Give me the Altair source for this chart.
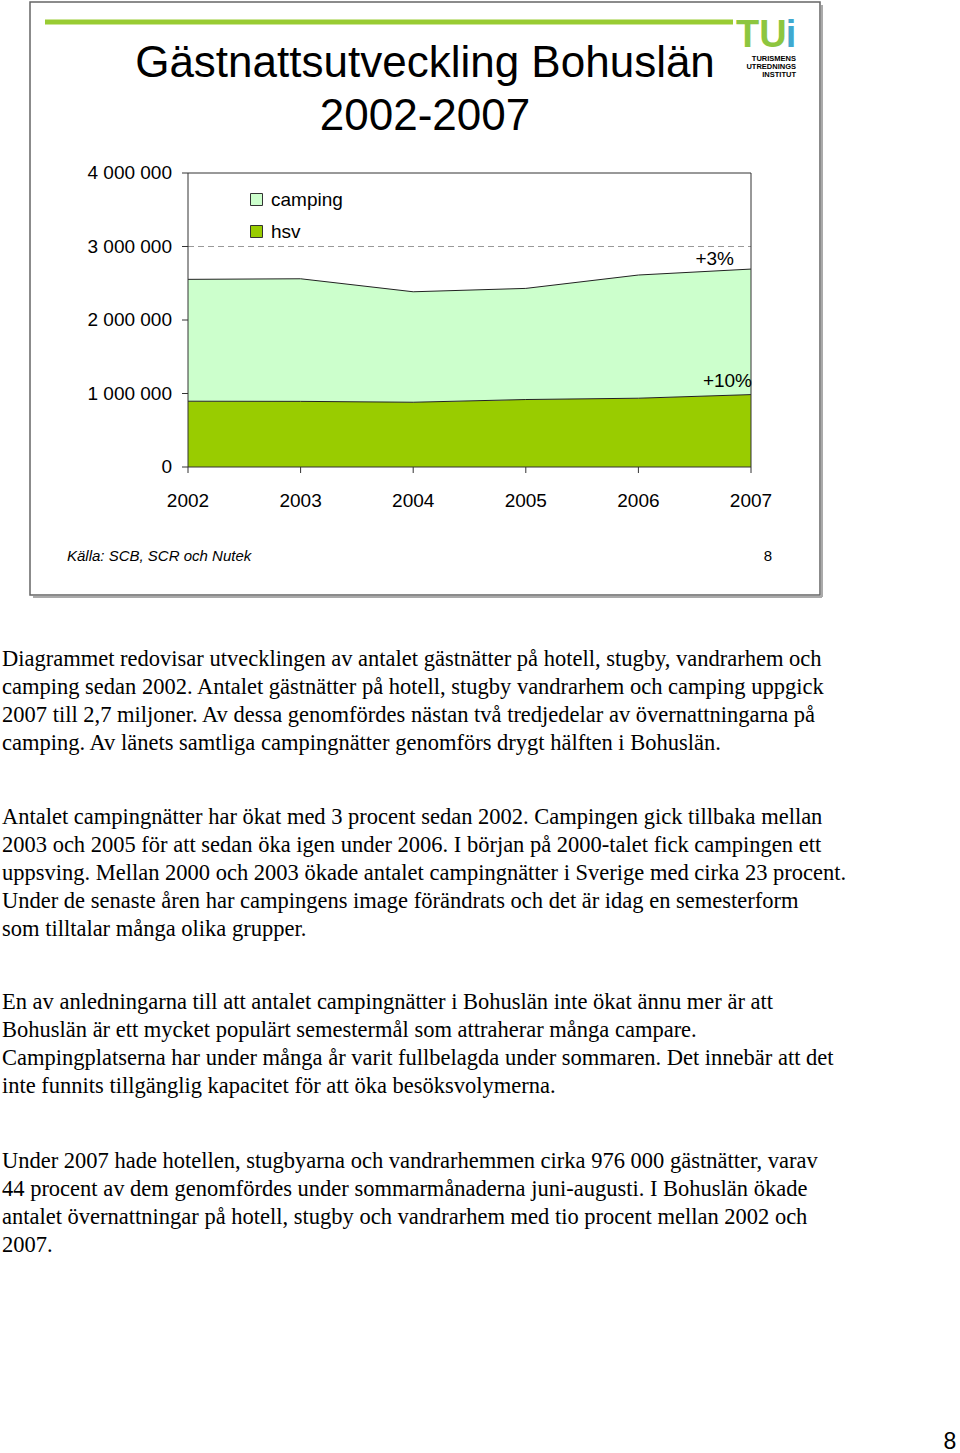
import altair as alt
import pandas as pd

# ---- data ----
years = [2002, 2003, 2004, 2005, 2006, 2007]
hsv = [895000, 893000, 881000, 918000, 936000, 985000]
camping = [1658000, 1668000, 1503000, 1512000, 1676000, 1708000]
series_names = ["camping", "hsv"]
series_colors = ["#CCFFCC", "#99CC00"]
y_ticks = [0, 1000000, 2000000, 3000000, 4000000]
y_tick_labels = ["0", "1 000 000", "2 000 000", "3 000 000", "4 000 000"]
x_tick_labels = ["2002", "2003", "2004", "2005", "2006", "2007"]
annotations = ["+3%", "+10%"]

title_lines = ["Gästnattsutveckling Bohuslän", "2002-2007"]
source_text = "Källa: SCB, SCR och Nutek"
slide_number = "8"
page_number = "8"
logo_lines = ["TURISMENS", "UTREDNINGS", "INSTITUT"]

para1 = [
    "Diagrammet redovisar utvecklingen av antalet gästnätter på hotell, stugby, vandrarhem och",
    "camping sedan 2002. Antalet gästnätter på hotell, stugby vandrarhem och camping uppgick",
    "2007 till 2,7 miljoner. Av dessa genomfördes nästan två tredjedelar av övernattningarna på",
    "camping. Av länets samtliga campingnätter genomförs drygt hälften i Bohuslän.",
]
para2 = [
    "Antalet campingnätter har ökat med 3 procent sedan 2002. Campingen gick tillbaka mellan",
    "2003 och 2005 för att sedan öka igen under 2006. I början på 2000-talet fick campingen ett",
    "uppsving. Mellan 2000 och 2003 ökade antalet campingnätter i Sverige med cirka 23 procent.",
    "Under de senaste åren har campingens image förändrats och det är idag en semesterform",
    "som tilltalar många olika grupper.",
]
para3 = [
    "En av anledningarna till att antalet campingnätter i Bohuslän inte ökat ännu mer är att",
    "Bohuslän är ett mycket populärt semestermål som attraherar många campare.",
    "Campingplatserna har under många år varit fullbelagda under sommaren. Det innebär att det",
    "inte funnits tillgänglig kapacitet för att öka besöksvolymerna.",
]
para4 = [
    "Under 2007 hade hotellen, stugbyarna och vandrarhemmen cirka 976 000 gästnätter, varav",
    "44 procent av dem genomfördes under sommarmånaderna juni-augusti. I Bohuslän ökade",
    "antalet övernattningar på hotell, stugby och vandrarhem med tio procent mellan 2002 och",
    "2007.",
]

# ---- layout (page pixels) ----
OX, OY = 188, 173          # plot origin on the page
PW, PH = 563, 294          # plot area
PAGE_W, PAGE_H = 960, 1453

rows = []
for i, yr in enumerate(years):
    rows.append({"year": yr, "series": "hsv", "value": hsv[i], "ord": 0})
    rows.append({"year": yr, "series": "camping", "value": camping[i], "ord": 1})
df = pd.DataFrame(rows)

# upper edge of each stacked band (for the outline)
edge_rows = []
for i, yr in enumerate(years):
    edge_rows.append({"year": yr, "series": "hsv", "top": hsv[i]})
    edge_rows.append({"year": yr, "series": "camping", "top": hsv[i] + camping[i]})
edge_df = pd.DataFrame(edge_rows)

SANS = "Liberation Sans"
SERIF = "Liberation Serif"
AX = "#333"


def xs():
    return alt.Scale(domain=[years[0], years[-1]], nice=False, zero=False)


def ys():
    return alt.Scale(domain=[y_ticks[0], y_ticks[-1]], nice=False, zero=False)


# dashed gridlines (behind the areas)
grid_df = pd.DataFrame({"g": y_ticks[1:-1], "x1": years[0], "x2": years[-1]})
grid = alt.Chart(grid_df).mark_rule(color="#999", strokeWidth=1, strokeDash=[6, 4]).encode(
    x=alt.X("x1:Q", axis=None, scale=xs()), x2="x2:Q",
    y=alt.Y("g:Q", axis=None, scale=ys()))

area = alt.Chart(df).mark_area(opacity=1, fillOpacity=1).encode(
    x=alt.X("year:Q", scale=xs(), axis=None),
    y=alt.Y("value:Q", stack="zero", scale=ys(), axis=None),
    color=alt.Color("series:N",
                    scale=alt.Scale(domain=series_names, range=series_colors),
                    legend=alt.Legend(orient="none", legendX=59, legendY=17, title=None,
                                      symbolType="square", symbolSize=144, symbolOpacity=1,
                                      symbolStrokeColor="#333", symbolStrokeWidth=1,
                                      labelFont=SANS, labelFontSize=19, labelColor="black",
                                      labelOffset=5, rowPadding=12)),
    order=alt.Order("ord:Q", sort="ascending"),
)

edges = alt.Chart(edge_df).mark_line(color="#222", strokeWidth=1).encode(
    x=alt.X("year:Q", scale=xs(), axis=None),
    y=alt.Y("top:Q", scale=ys(), axis=None),
    detail="series:N",
)

# plot frame: top and right edges, plus axis lines
frame_df = pd.DataFrame({
    "x1": [years[0], years[-1], years[0], years[0]],
    "x2": [years[-1], years[-1], years[0], years[-1]],
    "y1": [y_ticks[-1], y_ticks[0], y_ticks[0], y_ticks[0]],
    "y2": [y_ticks[-1], y_ticks[-1], y_ticks[-1], y_ticks[0]],
})
frame = alt.Chart(frame_df).mark_rule(color=AX, strokeWidth=1).encode(
    x=alt.X("x1:Q", axis=None, scale=xs()), x2="x2:Q",
    y=alt.Y("y1:Q", axis=None, scale=ys()), y2="y2:Q")

# y axis ticks and labels
yt_df = pd.DataFrame({"g": y_ticks, "label": y_tick_labels})
y_ticks_m = alt.Chart(yt_df).mark_rule(color=AX, strokeWidth=1).encode(
    x=alt.value(-6), x2=alt.value(0), y=alt.Y("g:Q", axis=None, scale=ys()))
y_labels = alt.Chart(yt_df).mark_text(font=SANS, fontSize=19, align="right",
                                      baseline="middle", color="black").encode(
    x=alt.value(-16), y=alt.Y("g:Q", axis=None, scale=ys()), text="label:N")

# x axis ticks and labels
xt_df = pd.DataFrame({"year": years, "label": x_tick_labels})
x_ticks_m = alt.Chart(xt_df).mark_rule(color=AX, strokeWidth=1).encode(
    x=alt.X("year:Q", axis=None, scale=xs()), y=alt.value(PH), y2=alt.value(PH + 6))
x_labels = alt.Chart(xt_df).mark_text(font=SANS, fontSize=19, align="center",
                                      baseline="alphabetic", color="black").encode(
    x=alt.X("year:Q", axis=None, scale=xs()), y=alt.value(PH + 40), text="label:N")

total_last = hsv[-1] + camping[-1]
ann_df = pd.DataFrame({"year": [years[-1], years[-1]], "v": [total_last, hsv[-1]],
                       "label": annotations})
ann_camp = alt.Chart(ann_df.iloc[[0]]).mark_text(
    font=SANS, fontSize=19, align="right", baseline="alphabetic", dx=-17, dy=-4,
    color="black").encode(x=alt.X("year:Q", axis=None, scale=xs()),
                          y=alt.Y("v:Q", axis=None, scale=ys()), text="label:N")
ann_hsv = alt.Chart(ann_df.iloc[[1]]).mark_text(
    font=SANS, fontSize=19, align="right", baseline="alphabetic", dx=1, dy=-8,
    color="black").encode(x=alt.X("year:Q", axis=None, scale=xs()),
                          y=alt.Y("v:Q", axis=None, scale=ys()), text="label:N")

one = pd.DataFrame({"a": [0]})


def txt(lines, px, py, size, font=SANS, weight="normal", style="normal", align="left",
        color="black", line_height=None):
    kw = dict(text=lines, font=font, fontSize=size, fontWeight=weight, fontStyle=style,
              align=align, baseline="alphabetic", color=color)
    if line_height is not None:
        kw["lineHeight"] = line_height
    return alt.Chart(one).mark_text(**kw).encode(x=alt.value(px - OX), y=alt.value(py - OY))


# slide frame with a soft shadow on the right and bottom
shadow_b = alt.Chart(one).mark_rule(color="#aaa", strokeWidth=2).encode(
    x=alt.value(33 - OX), x2=alt.value(822 - OX), y=alt.value(597 - OY))
shadow_r = alt.Chart(one).mark_rule(color="#aaa", strokeWidth=2).encode(
    x=alt.value(822 - OX), y=alt.value(5 - OY), y2=alt.value(597 - OY))
slide_frame = alt.Chart(one).mark_rect(fill="white", fillOpacity=0, stroke="#666",
                                       strokeWidth=1.5).encode(
    x=alt.value(30 - OX), x2=alt.value(820 - OX), y=alt.value(2 - OY), y2=alt.value(595 - OY))

# green header bar
green_bar = alt.Chart(one).mark_rule(color="#99CC33", strokeWidth=5).encode(
    x=alt.value(45 - OX), x2=alt.value(733 - OX), y=alt.value(22 - OY))

title = txt(title_lines, 425, 77, 44, align="center", line_height=53)
source = txt(source_text, 67, 561, 15, style="italic")
slide_no = txt(slide_number, 768, 561, 15, align="center")

logo_t = txt("TU", 736, 47, 38, weight="bold", color="#8DC63F")
logo_i = txt("i", 791, 47, 38, weight="bold", color="#3FA9D0", align="center")
logo_txt = txt(logo_lines, 796, 61, 7.5, weight="bold", align="right", line_height=8)

PS = 22.5
p1 = txt(para1, 2, 666, PS, font=SERIF, line_height=28)
p2 = txt(para2, 2, 824, PS, font=SERIF, line_height=28)
p3 = txt(para3, 2, 1009, PS, font=SERIF, line_height=28)
p4 = txt(para4, 2, 1168, PS, font=SERIF, line_height=28)
page_no = txt(page_number, 950, 1449, 23, align="center")

chart = alt.layer(
    shadow_b, shadow_r, slide_frame, green_bar, logo_t, logo_i, logo_txt, title,
    grid, area, edges, frame, y_ticks_m, y_labels, x_ticks_m, x_labels,
    ann_camp, ann_hsv,
    source, slide_no, p1, p2, p3, p4, page_no,
).properties(
    width=PW, height=PH,
    autosize=alt.AutoSizeParams(type="none"),
    padding={"left": OX, "top": OY, "right": PAGE_W - OX - PW, "bottom": PAGE_H - OY - PH},
).configure_view(stroke=None)

chart.save("out.html", embed_options={"renderer": "svg", "actions": False})
